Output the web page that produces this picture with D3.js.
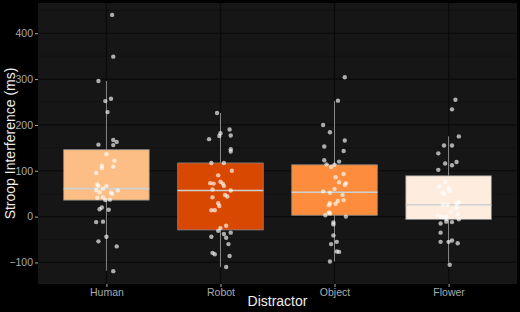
<!DOCTYPE html>
<meta charset="utf-8">
<style>
  body { margin: 0; background: #000; }
  text { font-family: "Liberation Sans", Arial, sans-serif; }
</style>
<body>
<script src="https://d3js.org/d3.v7.min.js"></script>
<script>

// categories and fills
var distractors = ["Human", "Robot", "Object", "Flower"];
var fills = ["#fdbe85", "#d94801", "#fd8d3c", "#feedde"];

// box stats: [whiskerLow, q1, median, q3, whiskerHigh]
var boxHuman  = [-118, 36, 61, 146, 296];
var boxRobot  = [-110, -29, 57, 117, 226];
var boxObject = [-98, 3, 53, 113, 252];
var boxFlower = [-100, -6, 26, 89, 175];

// points: [value (ms), jitter in category units]
var ptsHuman = [[440,.05],[349,.06],[296,-.07],[252,-.01],[257,.04],[228,.01],[157,-.07],[167,.06],
  [163,.09],[156,.06],[136,0],[122,.07],[111,-.04],[106,-.04],[109,.06],[95,-.09],[70,-.08],[67,-.07],
  [67,0],[61,-.03],[58,-.09],[53,-.06],[52,.04],[50,.05],[57,.10],[42,-.03],[41,-.08],[36,-.01],
  [37,.03],[20,-.04],[16,-.06],[15,.02],[-12,-.09],[-11,-.03],[-44,0],[-54,-.07],[-65,.09],[-119,.06]];
var ptsRobot = [[226,-.03],[190,.08],[182,0],[176,-.01],[177,.09],[169,-.10],[147,.09],[142,.09],
  [117,-.08],[117,.03],[90,-.02],[100,.10],[73,-.09],[72,-.06],[76,0],[72,.02],[67,.03],[59,-.07],
  [57,.09],[47,.04],[44,.06],[42,-.07],[29,-.02],[23,-.01],[14,-.08],[14,-.05],[-20,.05],[-25,0],
  [-31,-.02],[-35,.09],[-38,.03],[-46,.05],[-44,-.08],[-60,.07],[-79,-.07],[-82,-.05],[-86,.08],[-110,.05]];
var ptsObject = [[304,.09],[253,.03],[200,-.10],[184,-.04],[166,.09],[153,-.09],[143,.08],[123,-.09],
  [120,.04],[114,-.07],[108,-.03],[113,0],[93,.08],[86,.01],[75,.04],[73,.10],[69,.09],[60,0],
  [55,-.10],[52,-.04],[47,.07],[36,.08],[34,.03],[28,.01],[29,-.04],[25,-.05],[9,-.05],[3,-.08],
  [7,-.04],[0,.10],[-13,-.01],[-17,-.01],[-41,-.01],[-55,.02],[-60,-.03],[-76,.02],[-77,.04],[-98,-.04]];
var ptsFlower = [[255,.06],[234,.03],[175,.09],[155,-.04],[155,.03],[138,-.09],[119,.07],[116,-.03],
  [112,.03],[102,-.09],[76,-.03],[66,-.08],[63,0],[56,.01],[52,-.05],[50,-.04],[31,.09],[28,.07],
  [26,-.05],[26,-.01],[19,.07],[10,.02],[5,.08],[2,-.09],[-1,-.06],[0,-.02],[-5,-.02],[-6,.09],
  [-11,-.02],[-12,.03],[-15,-.07],[-35,-.07],[-55,-.07],[-55,0],[-52,.03],[-58,.08],[-105,.01]];

var yTicks = [-100, 0, 100, 200, 300, 400];
var yMinor = [-50, 50, 150, 250, 350, 450];

var boxes = [boxHuman, boxRobot, boxObject, boxFlower];
var points = [ptsHuman, ptsRobot, ptsObject, ptsFlower];

var W = 520, H = 312;
var margin = {top: 3, right: 3, bottom: 28, left: 38};
var pw = W - margin.left - margin.right,
    ph = H - margin.top - margin.bottom;

var svg = d3.select("body").append("svg")
  .attr("width", W).attr("height", H);

svg.append("rect").attr("width", W).attr("height", H).attr("fill", "#000");

var g = svg.append("g")
  .attr("transform", "translate(" + margin.left + "," + margin.top + ")");

var x = d3.scalePoint().domain(distractors).range([0, pw]).padding(0.6);
var y = d3.scaleLinear().domain([-147, 466]).range([ph, 0]);
var step = x.step();
var bw = step * 0.75;

// panel
g.append("rect").attr("width", pw).attr("height", ph).attr("fill", "#161616");

// grid
g.selectAll(".minor").data(yMinor).enter().append("line")
  .attr("x1", 0).attr("x2", pw)
  .attr("y1", d => y(d)).attr("y2", d => y(d))
  .attr("stroke", "#101010").attr("stroke-width", 0.6);
g.selectAll(".major").data(yTicks).enter().append("line")
  .attr("x1", 0).attr("x2", pw)
  .attr("y1", d => y(d)).attr("y2", d => y(d))
  .attr("stroke", "#0a0a0a").attr("stroke-width", 1.2);
g.selectAll(".vmajor").data(distractors).enter().append("line")
  .attr("x1", d => x(d)).attr("x2", d => x(d))
  .attr("y1", 0).attr("y2", ph)
  .attr("stroke", "#0a0a0a").attr("stroke-width", 1.2);

// boxes
distractors.forEach(function(cat, i) {
  var b = boxes[i], cx = x(cat);
  g.append("line")
    .attr("x1", cx).attr("x2", cx)
    .attr("y1", y(b[0])).attr("y2", y(b[4]))
    .attr("stroke", "#8a8a8a").attr("stroke-width", 1);
  g.append("rect")
    .attr("x", cx - bw / 2).attr("width", bw)
    .attr("y", y(b[3])).attr("height", y(b[1]) - y(b[3]))
    .attr("fill", fills[i]).attr("stroke", "#8a8a8a").attr("stroke-width", 0.8);
  g.append("line")
    .attr("x1", cx - bw / 2).attr("x2", cx + bw / 2)
    .attr("y1", y(b[2])).attr("y2", y(b[2]))
    .attr("stroke", "#d0d0d0").attr("stroke-width", 1.6);
});

// jittered points
distractors.forEach(function(cat, i) {
  g.selectAll(".pt" + i).data(points[i]).enter().append("circle")
    .attr("cx", d => x(cat) + d[1] * step)
    .attr("cy", d => y(d[0]))
    .attr("r", 2.2)
    .attr("fill", "#fff").attr("fill-opacity", 0.65);
});

// axes
var yAxis = g.append("g")
  .call(d3.axisLeft(y).tickValues(yTicks).tickSize(3).tickPadding(2));
yAxis.select(".domain").remove();
yAxis.selectAll("line").attr("stroke", "#aaa");
yAxis.selectAll("text").attr("fill", "#aaa").style("font-size", "10.5px");

var xAxis = g.append("g")
  .attr("transform", "translate(0," + ph + ")")
  .call(d3.axisBottom(x).tickSize(3).tickPadding(2));
xAxis.select(".domain").remove();
xAxis.selectAll("line").attr("stroke", "#aaa");
xAxis.selectAll("text").attr("fill", "#aaa").style("font-size", "10.5px");

// titles
svg.append("text")
  .attr("x", margin.left + pw / 2).attr("y", 306)
  .attr("text-anchor", "middle")
  .attr("fill", "#eee").style("font-size", "14px")
  .text("Distractor");

svg.append("text")
  .attr("transform", "translate(15," + (margin.top + ph / 2) + ") rotate(-90)")
  .attr("text-anchor", "middle")
  .attr("fill", "#eee").style("font-size", "14px")
  .text("Stroop Interference (ms)");

</script>
</body>
